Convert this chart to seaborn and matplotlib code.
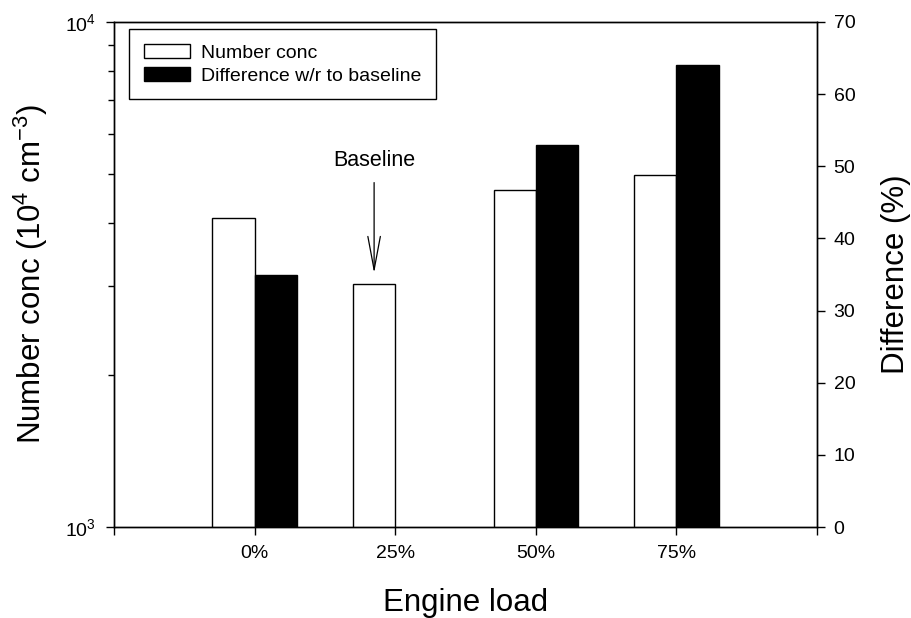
import matplotlib
matplotlib.use("Agg")
import matplotlib.pyplot as plt
from matplotlib.patches import Patch
from matplotlib.ticker import NullFormatter, LogLocator, FixedLocator
import numpy as np
import pandas as pd
import seaborn as sns

# Engine load levels
loads = ["0%", "25%", "50%", "75%"]
# Particle number concentration (cm^-3, log axis)
number_conc = [4100, 3030, 4650, 4980]
# Difference relative to the 25% baseline (%), none at the baseline itself
difference = [35, np.nan, 53, 64]

conc_name = "Number conc"
diff_name = "Difference w/r to baseline"
bar_w = 0.3

sns.set_style("ticks")
plt.rcParams["font.family"] = ["Liberation Sans", "DejaVu Sans"]
plt.rcParams["mathtext.fontset"] = "custom"
plt.rcParams["mathtext.rm"] = "Liberation Sans"
plt.rcParams["mathtext.it"] = "Liberation Sans:italic"
plt.rcParams["mathtext.bf"] = "Liberation Sans:bold"
plt.rcParams["mathtext.default"] = "regular"
for key in ("text.color", "axes.labelcolor", "xtick.color", "ytick.color", "axes.edgecolor"):
    plt.rcParams[key] = "black"

pos = np.arange(len(loads))
df_conc = pd.DataFrame({"x": pos - bar_w / 2, "value": number_conc})
df_diff = pd.DataFrame({"x": pos + bar_w / 2, "value": difference}).dropna()

fig = plt.figure(figsize=(9.12, 6.18), dpi=100)
ax = fig.add_axes([114 / 912, 1 - 527 / 618, (817 - 114) / 912, (527 - 22) / 618])
ax2 = ax.twinx()

sns.barplot(data=df_conc, x="x", y="value", native_scale=True, width=bar_w,
            color="white", edgecolor="black", linewidth=1.0, saturation=1, ax=ax)
sns.barplot(data=df_diff, x="x", y="value", native_scale=True, width=bar_w,
            color="black", edgecolor="black", linewidth=1.0, saturation=1, ax=ax2)

# Left axis: log scale, one decade
ax.set_yscale("log")
ax.set_ylim(1e3, 1e4)
ax.yaxis.set_major_locator(FixedLocator([1e3, 1e4]))
ax.yaxis.set_minor_locator(LogLocator(base=10, subs=np.arange(2, 10)))
ax.yaxis.set_minor_formatter(NullFormatter())

# Right axis: linear percent
ax2.set_ylim(0, 70)
ax2.set_yticks(np.arange(0, 71, 10))

for a in (ax, ax2):
    a.set_xlim(-1, 4)
    a.set_xticks(range(-1, 5))
    a.set_xticklabels([""] + loads + [""])
    for s in a.spines.values():
        s.set_visible(True)
        s.set_linewidth(1.0)
        s.set_color("black")

ax.tick_params(axis="both", which="major", direction="out", length=6, width=1.0,
               labelsize=14, colors="black", pad=7)
ax.tick_params(axis="y", which="minor", direction="out", length=4, width=1.0)
ax2.tick_params(axis="y", which="major", direction="out", length=6, width=1.0,
                labelsize=14, colors="black", pad=6)
ax2.tick_params(axis="x", bottom=False, labelbottom=False)

ax.set_xlabel("Engine load", fontsize=22.5, labelpad=19)
ax.set_ylabel("Number conc (10$^4$ cm$^{-3}$)", fontsize=22.5, labelpad=11)
ax2.set_ylabel("Difference (%)", fontsize=22.5, rotation=90, labelpad=18)

# Baseline marker over the 25% bar
ax.annotate("Baseline", xy=(pos[1] - bar_w / 2, number_conc[1] * 1.05),
            xytext=(pos[1] - bar_w / 2, 5070), textcoords="data",
            ha="center", va="bottom", fontsize=15.5,
            arrowprops=dict(arrowstyle="->,head_length=2.4,head_width=0.45",
                            color="black", lw=0.9, shrinkA=6, shrinkB=0,
                            mutation_scale=10))

handles = [Patch(facecolor="white", edgecolor="black", linewidth=1.0, label=conc_name),
           Patch(facecolor="black", edgecolor="black", linewidth=1.0, label=diff_name)]
leg = ax2.legend(handles=handles, loc="upper left", bbox_to_anchor=(0.0213, 0.986),
                 borderaxespad=0, fontsize=14, frameon=True, fancybox=False,
                 edgecolor="black", framealpha=1, handlelength=2.37, handleheight=0.78,
                 handletextpad=0.57, borderpad=0.75, labelspacing=0.25)
leg.get_frame().set_linewidth(1.0)

fig.savefig("out.png", dpi=100)
